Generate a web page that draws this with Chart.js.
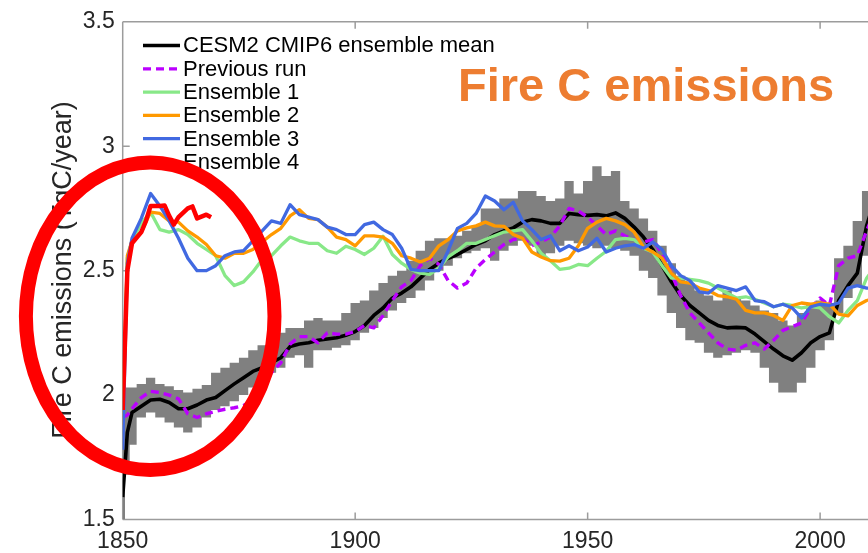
<!DOCTYPE html>
<html>
<head>
<meta charset="utf-8">
<title>Fire C emissions</title>
<script src="https://cdn.jsdelivr.net/npm/chart.js@4.4.1/dist/chart.umd.min.js"></script>
<style>
  html, body { margin: 0; padding: 0; background: #fff; }
  #wrap { width: 868px; height: 553px; }
</style>
</head>
<body>
<div id="wrap"><canvas id="fireChart" width="868" height="553"></canvas></div>
<script>
/* Fire carbon emissions, 1850 onward: CESM2 ensemble mean with spread band,
   the previous run and the four ensemble members (Ensemble 4 stops early). */

const YEARS = [1850, 1851, 1852, 1854, 1856, 1858, 1860, 1862, 1864, 1866, 1868,
  1870, 1872, 1874, 1876, 1878, 1880, 1882, 1884, 1886, 1888,
  1890, 1892, 1894, 1896, 1898, 1900, 1902, 1904, 1906, 1908,
  1910, 1912, 1914, 1916, 1918, 1920, 1922, 1924, 1926, 1928,
  1930, 1932, 1934, 1936, 1938, 1940, 1942, 1944, 1946, 1948,
  1950, 1952, 1954, 1956, 1958, 1960, 1962, 1964, 1966, 1968,
  1970, 1972, 1974, 1976, 1978, 1980, 1982, 1984, 1986, 1988,
  1990, 1992, 1994, 1996, 1998, 2000, 2002, 2004, 2006, 2008,
  2010, 2012];

// CESM2 CMIP6 ensemble mean
const MEAN = [1.59, 1.85, 1.93, 1.955, 1.98, 1.983, 1.97, 1.945, 1.945, 1.96, 1.98,
  1.99, 2.018, 2.045, 2.07, 2.095, 2.11, 2.13, 2.15, 2.195, 2.205,
  2.21, 2.22, 2.225, 2.23, 2.24, 2.255, 2.28, 2.32, 2.35, 2.39,
  2.41, 2.435, 2.47, 2.505, 2.53, 2.55, 2.565, 2.585, 2.605, 2.62,
  2.645, 2.66, 2.672, 2.695, 2.705, 2.70, 2.69, 2.69, 2.73, 2.725,
  2.722, 2.725, 2.72, 2.732, 2.71, 2.675, 2.635, 2.585, 2.52, 2.455,
  2.40, 2.36, 2.33, 2.30, 2.28, 2.27, 2.272, 2.27, 2.245, 2.215,
  2.185, 2.158, 2.14, 2.17, 2.21, 2.235, 2.25, 2.38, 2.44, 2.49,
  2.68, 2.80];

// ensemble spread (min / max)
const SPREAD_LO = [1.50, 1.68, 1.80, 1.91, 1.93, 1.91, 1.89, 1.87, 1.85, 1.87, 1.91,
  1.94, 1.955, 1.975, 2.00, 2.03, 2.05, 2.09, 2.11, 2.15, 2.16,
  2.11, 2.18, 2.18, 2.19, 2.20, 2.22, 2.25, 2.27, 2.31, 2.34,
  2.37, 2.39, 2.42, 2.46, 2.50, 2.52, 2.55, 2.57, 2.58, 2.59,
  2.54, 2.58, 2.60, 2.62, 2.60, 2.56, 2.57, 2.60, 2.62, 2.61,
  2.60, 2.59, 2.60, 2.59, 2.58, 2.56, 2.50, 2.47, 2.40, 2.33,
  2.27, 2.22, 2.21, 2.17, 2.15, 2.16, 2.17, 2.18, 2.17, 2.11,
  2.05, 2.01, 2.01, 2.05, 2.11, 2.18, 2.22, 2.33, 2.39, 2.44,
  2.56, 2.62];
const SPREAD_HI = [1.93, 2.03, 2.03, 2.045, 2.07, 2.045, 2.035, 2.02, 2.01, 2.025, 2.04,
  2.09, 2.11, 2.13, 2.15, 2.18, 2.20, 2.22, 2.25, 2.27, 2.27,
  2.30, 2.31, 2.30, 2.30, 2.33, 2.37, 2.38, 2.42, 2.45, 2.48,
  2.50, 2.54, 2.58, 2.62, 2.63, 2.63, 2.64, 2.66, 2.68, 2.75,
  2.75, 2.79, 2.79, 2.82, 2.82, 2.80, 2.78, 2.79, 2.86, 2.81,
  2.86, 2.92, 2.88, 2.90, 2.78, 2.75, 2.71, 2.66, 2.60, 2.53,
  2.48, 2.45, 2.42, 2.40, 2.38, 2.42, 2.39, 2.38, 2.36, 2.34,
  2.33, 2.30, 2.28, 2.33, 2.37, 2.38, 2.37, 2.55, 2.60, 2.70,
  2.82, 2.88];

const PREVIOUS = [1.91, 1.92, 1.945, 1.99, 2.015, 2.01, 2.0, 1.985, 1.925, 1.91, 1.925,
  1.935, 1.943, 1.949, 1.958, 1.98, 2.03, 2.09, 2.13, 2.205, 2.235,
  2.235, 2.21, 2.25, 2.245, 2.245, 2.255, 2.28, 2.27, 2.32, 2.38,
  2.435, 2.46, 2.52, 2.55, 2.525, 2.46, 2.43, 2.45, 2.51, 2.545,
  2.575, 2.605, 2.625, 2.63, 2.60, 2.615, 2.635, 2.68, 2.75, 2.74,
  2.715, 2.68, 2.645, 2.66, 2.64, 2.625, 2.615, 2.625, 2.57, 2.49,
  2.40, 2.33, 2.29, 2.25, 2.21, 2.185, 2.18, 2.20, 2.21, 2.185,
  2.22, 2.26, 2.275, 2.29, 2.35, 2.39, 2.36, 2.52, 2.55, 2.56,
  2.66, 2.75];

const ENS1 = [1.90, 2.55, 2.62, 2.69, 2.735, 2.665, 2.655, 2.665, 2.645, 2.61, 2.585,
  2.56, 2.48, 2.44, 2.455, 2.495, 2.545, 2.56, 2.60, 2.635, 2.62,
  2.61, 2.61, 2.58, 2.57, 2.598, 2.585, 2.565, 2.59, 2.638, 2.565,
  2.53, 2.505, 2.49, 2.485, 2.51, 2.555, 2.58, 2.61, 2.61, 2.625,
  2.64, 2.655, 2.66, 2.665, 2.62, 2.57, 2.54, 2.505, 2.51, 2.525,
  2.52, 2.55, 2.578, 2.625, 2.63, 2.625, 2.59, 2.575, 2.52, 2.47,
  2.47, 2.465, 2.46, 2.45, 2.43, 2.41, 2.39, 2.395, 2.385, 2.37,
  2.355, 2.365, 2.36, 2.35, 2.355, 2.35, 2.315, 2.29, 2.34, 2.38,
  2.47, 2.52];

const ENS2 = [1.88, 2.56, 2.62, 2.655, 2.735, 2.73, 2.70, 2.695, 2.66, 2.635, 2.605,
  2.56, 2.55, 2.57, 2.57, 2.585, 2.615, 2.645, 2.67, 2.72, 2.745,
  2.71, 2.705, 2.675, 2.635, 2.625, 2.60, 2.64, 2.64, 2.635, 2.61,
  2.56, 2.55, 2.535, 2.55, 2.60, 2.625, 2.66, 2.672, 2.68, 2.695,
  2.68, 2.678, 2.645, 2.63, 2.575, 2.555, 2.54, 2.538, 2.55, 2.60,
  2.67, 2.695, 2.71, 2.70, 2.685, 2.655, 2.595, 2.575, 2.55, 2.49,
  2.455, 2.45, 2.43, 2.42, 2.40, 2.395, 2.385, 2.34, 2.33, 2.33,
  2.32, 2.30, 2.36, 2.37, 2.365, 2.37, 2.365, 2.325, 2.318, 2.36,
  2.38, 2.39];

const ENS3 = [1.78, 2.53, 2.63, 2.71, 2.81, 2.76, 2.70, 2.63, 2.55, 2.50, 2.50,
  2.52, 2.56, 2.575, 2.58, 2.62, 2.66, 2.70, 2.69, 2.765, 2.725,
  2.715, 2.705, 2.675, 2.665, 2.645, 2.645, 2.685, 2.695, 2.665, 2.645,
  2.59, 2.505, 2.50, 2.50, 2.50, 2.58, 2.67, 2.69, 2.73, 2.80,
  2.78, 2.745, 2.775, 2.70, 2.665, 2.625, 2.64, 2.58, 2.60, 2.58,
  2.595, 2.63, 2.575, 2.59, 2.60, 2.605, 2.59, 2.615, 2.585, 2.52,
  2.48, 2.46, 2.415, 2.41, 2.44, 2.43, 2.42, 2.435, 2.38, 2.375,
  2.355, 2.365, 2.35, 2.31, 2.355, 2.365, 2.36, 2.37, 2.43, 2.44,
  2.43, 2.43];

// Ensemble 4 only covers the first two decades
const ENS4_YEARS = [1850, 1851, 1852, 1854, 1855, 1856, 1858, 1859, 1860, 1861,
  1862, 1864, 1865, 1866, 1868, 1869];
const ENS4 = [1.94, 2.50, 2.61, 2.655, 2.70, 2.76, 2.76, 2.762, 2.72, 2.685,
  2.715, 2.75, 2.758, 2.71, 2.725, 2.715];

const X_TICKS = [1850, 1900, 1950, 2000];
const Y_TICKS = [1.5, 2, 2.5, 3, 3.5];

const COLORS = {
  band: "#808080",
  mean: "#000000",
  prev: "#bb00ff",
  ens1: "#88e888",
  ens2: "#ff9900",
  ens3: "#4169e1",
  ens4: "#ff0000",
  axis: "#9c9c9c",
  text: "#262626",
  headline: "#ed7d31",
};
const FONT = "'Liberation Sans', Arial, Helvetica, sans-serif";

const pts = (xs, ys) => xs.map((x, i) => ({ x, y: ys[i] }));

function series(label, data, color, order, extra = {}) {
  return {
    label, data, order,
    borderColor: color, backgroundColor: color,
    borderWidth: 3.3, pointRadius: 0, tension: 0,
    borderJoinStyle: "round", fill: false,
    ...extra,
  };
}

/* axes box with inward tick marks, drawn under the data */
const frame = {
  id: "frame",
  beforeDatasetsDraw(chart) {
    const { ctx, chartArea: a, scales: { x, y } } = chart;
    ctx.save();
    ctx.strokeStyle = COLORS.axis;
    ctx.lineWidth = 1.5;
    ctx.beginPath();
    ctx.moveTo(a.left, a.top); ctx.lineTo(a.right, a.top);
    ctx.moveTo(a.left, a.top); ctx.lineTo(a.left, a.bottom);
    ctx.moveTo(a.left, a.bottom); ctx.lineTo(a.right, a.bottom);
    X_TICKS.forEach(v => {
      const px = x.getPixelForValue(v);
      ctx.moveTo(px, a.bottom); ctx.lineTo(px, a.bottom - 7);
      ctx.moveTo(px, a.top); ctx.lineTo(px, a.top + 7);
    });
    Y_TICKS.forEach(v => {
      const py = y.getPixelForValue(v);
      ctx.moveTo(a.left, py); ctx.lineTo(a.left + 7, py);
    });
    ctx.stroke();
    ctx.restore();
  },
};

/* axis title, legend, headline and the red ring on top */
const overlay = {
  id: "overlay",
  afterDraw(chart) {
    const { ctx } = chart;
    ctx.save();

    // y axis title
    ctx.save();
    ctx.translate(71, 270);
    ctx.rotate(-Math.PI / 2);
    ctx.font = `27px ${FONT}`;
    ctx.fillStyle = COLORS.text;
    ctx.textAlign = "center";
    ctx.textBaseline = "alphabetic";
    ctx.fillText("Fire C emissions (TgC/year)", 0, 0);
    ctx.restore();

    // legend
    const entries = chart.data.datasets.filter(d => d.label);
    ctx.font = `22px ${FONT}`;
    ctx.textAlign = "left";
    ctx.textBaseline = "alphabetic";
    entries.forEach((d, i) => {
      const base = 52.3 + i * 23.3;
      const ly = base - 6.8;
      ctx.save();
      ctx.strokeStyle = d.borderColor;
      ctx.lineWidth = 3.3;
      ctx.setLineDash(d.borderDash || []);
      ctx.beginPath();
      ctx.moveTo(143, ly); ctx.lineTo(180, ly);
      ctx.stroke();
      ctx.restore();
      ctx.fillStyle = "#000";
      ctx.fillText(d.label, 183, base);
    });

    // headline
    ctx.font = `bold 47px ${FONT}`;
    ctx.fillStyle = COLORS.headline;
    ctx.fillText("Fire C emissions", 458, 101);

    // red ring
    ctx.strokeStyle = "#ff0000";
    ctx.lineWidth = 14;
    ctx.beginPath();
    ctx.ellipse(150.2, 316.3, 124.3, 153.8, 0, 0, Math.PI * 2);
    ctx.stroke();

    ctx.restore();
  },
};

Chart.defaults.font.family = FONT;

new Chart(document.getElementById("fireChart"), {
  type: "line",
  data: {
    datasets: [
      { data: pts(YEARS, SPREAD_LO), order: 7, borderWidth: 0, borderColor: "transparent",
        pointRadius: 0, stepped: "middle", fill: false },
      { data: pts(YEARS, SPREAD_HI), order: 6, borderWidth: 0, borderColor: "transparent",
        backgroundColor: COLORS.band, pointRadius: 0, stepped: "middle", fill: "-1" },
      series("CESM2 CMIP6 ensemble mean", pts(YEARS, MEAN), COLORS.mean, 5, { borderWidth: 3.6 }),
      series("Previous run", pts(YEARS, PREVIOUS), COLORS.prev, 4, { borderDash: [8, 5], borderWidth: 3.4 }),
      series("Ensemble 1", pts(YEARS, ENS1), COLORS.ens1, 3),
      series("Ensemble 2", pts(YEARS, ENS2), COLORS.ens2, 2),
      series("Ensemble 3", pts(YEARS, ENS3), COLORS.ens3, 1),
      series("Ensemble 4", pts(ENS4_YEARS, ENS4), COLORS.ens4, 0, { borderWidth: 4.5 }),
    ],
  },
  options: {
    responsive: false,
    animation: false,
    events: [],
    layout: { padding: { top: 19.5, right: 0, bottom: 0, left: 0 } },
    plugins: { legend: { display: false }, tooltip: { enabled: false } },
    scales: {
      x: {
        type: "linear",
        min: 1850, max: 2010.3,
        afterFit: s => { s.height = 33.5; },
        afterBuildTicks: s => { s.ticks = X_TICKS.map(v => ({ value: v })); },
        grid: { display: false, drawTicks: false },
        border: { display: false },
        ticks: {
          color: COLORS.text, font: { size: 23 }, padding: 8,
          maxRotation: 0, autoSkip: false,
          callback: v => String(v),
        },
      },
      y: {
        min: 1.5, max: 3.5,
        afterFit: s => { s.width = 122.7; },
        afterBuildTicks: s => { s.ticks = Y_TICKS.map(v => ({ value: v })); },
        grid: { display: false, drawTicks: false },
        border: { display: false },
        ticks: {
          color: COLORS.text, font: { size: 23 }, padding: 8,
          callback: v => String(v),
        },
      },
    },
  },
  plugins: [frame, overlay],
});
</script>
</body>
</html>
